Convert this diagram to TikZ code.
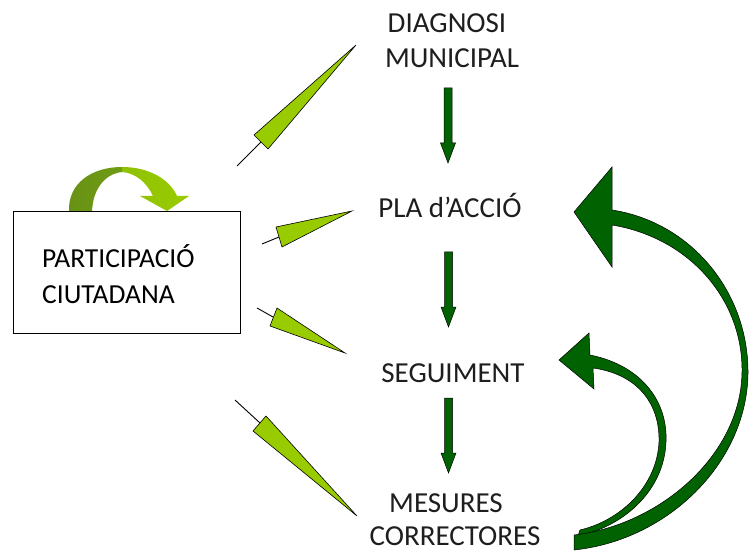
\documentclass[tikz,border=0pt]{standalone}
\usepackage{fontspec}
\setmainfont{Carlito}
\definecolor{lgreen}{RGB}{153,204,0}
\definecolor{dgreen}{RGB}{0,98,0}
\definecolor{oliveg}{RGB}{104,146,22}
\definecolor{labelgray}{RGB}{30,30,30}
\tikzset{
  lbl/.style={font=\fontsize{29}{34}\selectfont, text=labelgray, inner sep=0pt, anchor=base},
  boxlbl/.style={font=\fontsize{27.5}{34}\selectfont, text=black, inner sep=0pt, anchor=base west},
  wedge/.style={fill=lgreen, draw=black, line width=0.6pt, line join=miter},
  stub/.style={draw=black, line width=0.9pt},
  fat/.style={fill=dgreen, draw=black, line width=0.5pt},
  downarrow/.pic={\path[fat] (-4,0) -- (4,0) -- (4,55) -- (7.5,55) -- (0,75) -- (-7.5,55) -- (-4,55) -- cycle;}
}
\begin{document}
\begin{tikzpicture}[x=1pt,y=-1pt]
\useasboundingbox[fill=white] (0,0) rectangle (749,553);

% labels
\node[lbl] (diag1) at (447,33) {DIAGNOSI};
\node[lbl] (diag2) at (452,68) {MUNICIPAL};
\node[lbl] (pla) at (450,218) {PLA d’ACCIÓ};
\node[lbl] (seg) at (453,382) {SEGUIMENT};
\node[lbl] (mes1) at (446,512) {MESURES};
\node[lbl] (mes2) at (455,545) {CORRECTORES};

% vertical arrows
\coordinate (v1) at (448,88);
\coordinate (v2) at (448.5,252);
\coordinate (v3) at (448.5,398);
\pic at (v1) {downarrow};
\pic at (v2) {downarrow};
\pic at (v3) {downarrow};

% curved arrow above the box
\shade[left color=oliveg, right color=oliveg!85!lgreen]
  (69,211) .. controls (68,183) and (92,167) .. (122,167) -- (122,172)
  .. controls (104,174) and (93,190) .. (92,211) -- cycle;
\shade[left color=lgreen!80!oliveg, right color=lgreen]
  (122,167) .. controls (150,167) and (170,180) .. (177,196) -- (189,196) -- (167,211)
  -- (140,196) -- (153,196) .. controls (147,183) and (136,173) .. (122,172) -- cycle;

% box
\node[draw=black, line width=0.8pt, minimum width=227pt, minimum height=122pt, inner sep=0pt, fill=none] (box) at (126.5,272) {};
\node[boxlbl] (pc1) at (42,268) {PARTICIPACIÓ};
\node[boxlbl] (pc2) at (42,303) {CIUTADANA};

% wedges with stubs
\coordinate (w1a) at (237,166); \coordinate (w1b) at (261,142);
\draw[stub] (w1a) -- (w1b);
\path[wedge] (254,135) -- (356,45) -- (268,149) -- cycle;

\coordinate (w2a) at (262,244); \coordinate (w2b) at (279,237);
\draw[stub] (w2a) -- (w2b);
\path[wedge] (276,227) -- (352,211) -- (282,247) -- cycle;

\coordinate (w3a) at (257,308); \coordinate (w3b) at (273,317);
\draw[stub] (w3a) -- (w3b);
\path[wedge] (277,308) -- (345,353) -- (270,326) -- cycle;

\coordinate (w4a) at (235,400); \coordinate (w4b) at (260,423);
\draw[stub] (w4a) -- (w4b);
\path[wedge] (266,416) -- (357,516) -- (253,431) -- cycle;

% small feedback arrow
\path[fat] (590,355) .. controls (640,365) and (668,400) .. (666,442)
  .. controls (664,492) and (622,527) .. (578,536) -- (580,530)
  .. controls (622,520) and (657,485) .. (659,442)
  .. controls (660,402) and (636,374) .. (593,368)
  -- (594,389) -- (559,360) -- (589,333) -- cycle;

% big feedback arrow
\path[fat] (612,210) .. controls (690,222) and (747,290) .. (748,370)
  .. controls (749,460) and (670,540) .. (574,550) -- (574,535)
  .. controls (660,525) and (741,455) .. (742,372)
  .. controls (743,300) and (690,238) .. (612,225)
  -- (612,267) -- (574,212) -- (612,167) -- cycle;
\end{tikzpicture}
\end{document}
